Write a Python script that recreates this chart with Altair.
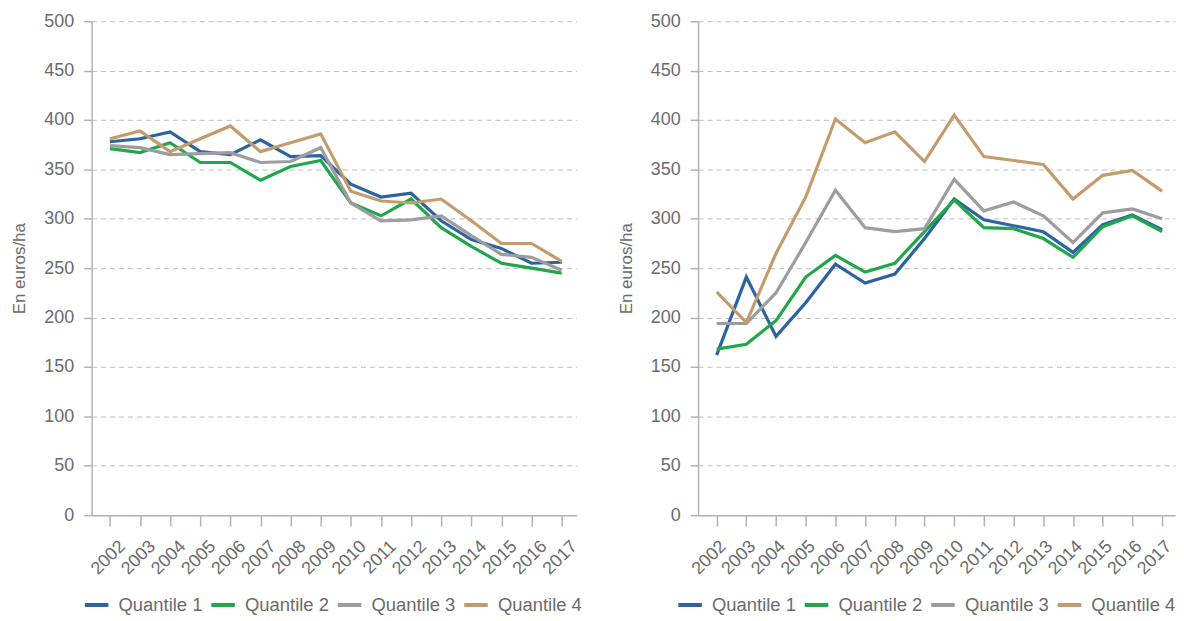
import altair as alt
import pandas as pd

years = [str(y) for y in range(2002, 2018)]
quantiles = ["Quantile 1", "Quantile 2", "Quantile 3", "Quantile 4"]
colors = ["#2b63a3", "#21a74a", "#9d9d9f", "#c49b6c"]

# Left panel
left_q1 = [378, 381, 388, 368, 365, 380, 363, 364, 335, 322, 326, 298, 279, 270, 255, 256]
left_q2 = [371, 367, 377, 357, 357, 339, 353, 359, 316, 303, 320, 291, 272, 255, 250, 245]
left_q3 = [374, 372, 365, 366, 367, 357, 358, 372, 316, 298, 299, 303, 283, 264, 261, 248]
left_q4 = [381, 389, 368, 381, 394, 368, 377, 386, 328, 318, 316, 320, 298, 275, 275, 257]

# Right panel
right_q1 = [162, 241, 181, 215, 254, 235, 244, 280, 320, 299, 293, 287, 266, 294, 304, 289]
right_q2 = [168, 173, 197, 241, 263, 246, 255, 287, 319, 291, 290, 280, 261, 292, 303, 287]
right_q3 = [194, 194, 225, 276, 329, 291, 287, 290, 340, 308, 317, 303, 276, 306, 310, 300]
right_q4 = [226, 195, 265, 322, 401, 377, 388, 358, 405, 363, 359, 355, 320, 344, 349, 328]

y_ticks = list(range(0, 501, 50))
y_title = "En euros/ha"


def make_df(series):
    rows = []
    for q, vals in zip(quantiles, series):
        for yr, v in zip(years, vals):
            rows.append({"year": yr, "value": v, "quantile": q})
    return pd.DataFrame(rows)


def panel(df, legend_x, width, pad, align, label_offset):
    return alt.Chart(df).mark_line(strokeWidth=3.2, strokeJoin="miter").encode(
        x=alt.X("year:O", sort=years,
                scale=alt.Scale(type="point", padding=pad, align=align),
                axis=alt.Axis(title=None, labelAngle=-45, tickSize=11,
                              labelPadding=11, labelOffset=label_offset,
                              grid=False)),
        y=alt.Y("value:Q", scale=alt.Scale(domain=[0, 500]),
                axis=alt.Axis(title=y_title, values=y_ticks, tickSize=8,
                              labelPadding=10, titlePadding=15, grid=True,
                              gridDash=[5, 4], gridColor="#bdbdbd")),
        color=alt.Color("quantile:N", sort=quantiles,
                        scale=alt.Scale(domain=quantiles, range=colors),
                        legend=alt.Legend(title=None, orient="none",
                                          direction="horizontal",
                                          legendX=legend_x, legendY=572,
                                          padding=0,
                                          symbolType="stroke",
                                          symbolStrokeWidth=4,
                                          symbolSize=560,
                                          labelOffset=8,
                                          columnPadding=0,
                                          labelFontSize=18.5,
                                          labelColor="#6b6b6b",
                                          labelFont="Liberation Sans")),
    ).properties(width=width, height=496)


left = panel(make_df([left_q1, left_q2, left_q3, left_q4]), -9, 487, 0.55, 0.55, 6)
right = panel(make_df([right_q1, right_q2, right_q3, right_q4]), -22, 479, 0.53, 0.59, 0)

chart = alt.hconcat(left, right, spacing=34).resolve_legend(
    color="independent"
).properties(
    padding={"left": 2, "top": 3, "right": 0, "bottom": 0}
).configure_view(stroke=None).configure_axis(
    domainColor="#b3b3b3", tickColor="#b3b3b3",
    labelColor="#6b6b6b", titleColor="#6b6b6b",
    labelFont="Liberation Sans", titleFont="Liberation Sans",
    labelFontSize=18, titleFontSize=17, titleFontWeight="normal",
    domainWidth=1.5, tickWidth=1.5,
).configure_axisX(grid=False)

chart.save("out.html", embed_options={"renderer": "svg", "actions": False})
